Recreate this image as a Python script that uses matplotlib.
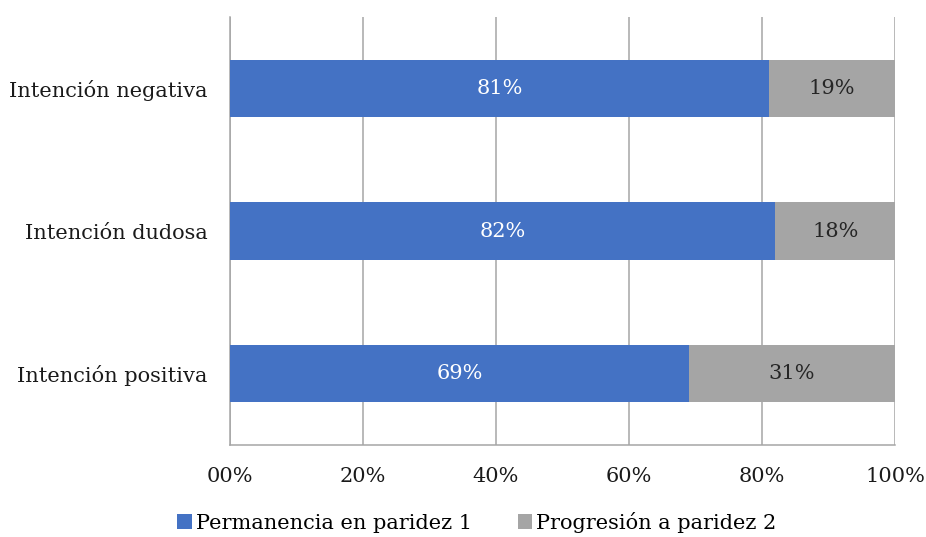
import matplotlib.pyplot as plt
from matplotlib.ticker import FuncFormatter

categorias = ["Intención positiva", "Intención dudosa", "Intención negativa"]
permanencia = [69, 82, 81]
progresion = [31, 18, 19]
series = ["Permanencia en paridez 1", "Progresión a paridez 2"]
ticks = [0, 20, 40, 60, 80, 100]

azul = "#4472C4"
gris = "#A5A5A5"
rejilla = "#A6A6A6"

plt.rcParams['font.family'] = ['DejaVu Serif']

fig = plt.figure(figsize=(9.26, 5.37), dpi=100)
ax = fig.add_axes([0.2484, 0.1713, 0.7181, 0.7970])

y = range(len(categorias))
b1 = ax.barh(y, permanencia, height=0.4, color=azul, label=series[0], zorder=3)
b2 = ax.barh(y, progresion, left=permanencia, height=0.4, color=gris,
             label=series[1], zorder=3)

# etiquetas de porcentaje centradas en cada tramo
for barras, vals, col in [(b1, permanencia, "white"), (b2, progresion, "#262626")]:
    for r, v in zip(barras, vals):
        ax.text(r.get_x() + r.get_width() / 2, r.get_y() + r.get_height() / 2,
                f"{v}%", ha="center", va="center", color=col, fontsize=15, zorder=4)

ax.set_xlim(0, 100)
ax.set_ylim(-0.5, 2.5)
ax.set_xticks(ticks)
ax.xaxis.set_major_formatter(FuncFormatter(lambda v, p: f"{int(v):02d}%"))
ax.set_yticks(list(y))
ax.set_yticklabels(categorias)
ax.tick_params(axis="both", length=0, labelsize=15, colors="#1a1a1a")
ax.tick_params(axis="x", pad=16)
ax.tick_params(axis="y", pad=16)

ax.grid(axis="x", color=rejilla, linewidth=1.1, zorder=0)
for s in ["top", "right"]:
    ax.spines[s].set_visible(False)
for s in ["left", "bottom"]:
    ax.spines[s].set_color(rejilla)
    ax.spines[s].set_linewidth(1.1)

fig.legend(handles=[b1, b2], loc="center", bbox_to_anchor=(0.515, 0.027),
           ncol=2, frameon=False, fontsize=15, handlelength=0.7, handleheight=0.7,
           handletextpad=0.2, columnspacing=2.2)

fig.savefig("out.png", dpi=100)
